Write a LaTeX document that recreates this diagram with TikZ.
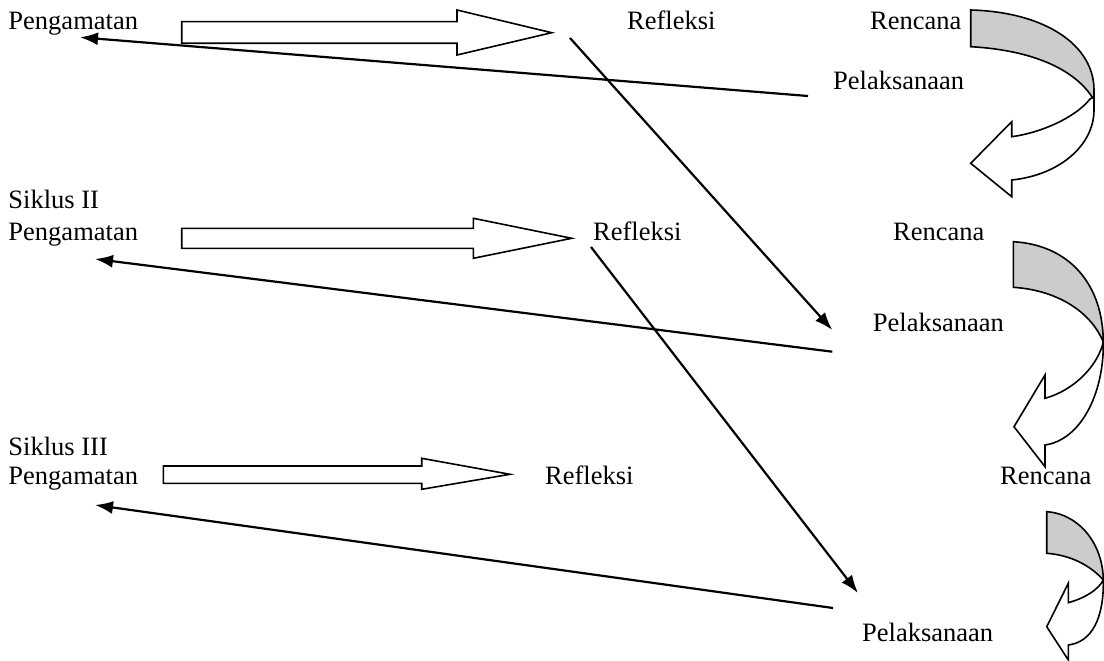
\documentclass[tikz,border=0pt]{standalone}
\usepackage{fontspec}
\setmainfont{Liberation Serif}
\usetikzlibrary{arrows.meta}
\begin{document}
\begin{tikzpicture}[x=1pt,y=-1pt,
  lbl/.style={inner sep=0pt,anchor=base west,font=\fontsize{26.5}{30}\selectfont},
  thin/.style={line width=2.2pt,-{Latex[length=18pt,width=13pt]}},
  block/.style={draw=black,line width=1.6pt,fill=white,line join=miter},
  back/.style={draw=black,line width=1.6pt,fill=black!20},
  front/.style={draw=black,line width=1.6pt,fill=white}]
\useasboundingbox (0,0) rectangle (1104,661);
% labels
\node[lbl] (p1) at (8.3,29.3) {Pengamatan};
\node[lbl] (r1) at (627,29.3) {Refleksi};
\node[lbl] (c1) at (870,29.3) {Rencana};
\node[lbl] (l1) at (833,89) {Pelaksanaan};
\node[lbl] (s2) at (8.3,208.3) {Siklus II};
\node[lbl] (p2) at (8.3,240) {Pengamatan};
\node[lbl] (r2) at (593,240) {Refleksi};
\node[lbl] (c2) at (893,240) {Rencana};
\node[lbl] (l2) at (872.7,331.7) {Pelaksanaan};
\node[lbl] (s3) at (8.3,455) {Siklus III};
\node[lbl] (p3) at (8.3,484) {Pengamatan};
\node[lbl] (r3) at (545,484) {Refleksi};
\node[lbl] (c3) at (1000,484) {Rencana};
\node[lbl] (l3) at (862,641) {Pelaksanaan};
% block arrows
\draw[block] (181.7,21.7) -- (457,21.7) -- (457,10) -- (551.7,32.7) -- (457,55) -- (457,43.3) -- (181.7,43.3) -- cycle;
\draw[block] (181.7,228.3) -- (473.3,228.3) -- (473.3,218.3) -- (571.7,238.3) -- (473.3,258.3) -- (473.3,248.3) -- (181.7,248.3) -- cycle;
\draw[block] (163.3,466) -- (421.7,466) -- (421.7,458.3) -- (510,474.3) -- (421.7,489.3) -- (421.7,483.3) -- (163.3,483.3) -- cycle;
% thin arrows
\coordinate (a1s) at (808,96);   \coordinate (a1e) at (80,37.3);
\coordinate (a2s) at (570,38);   \coordinate (a2e) at (832.3,330);
\coordinate (a3s) at (832.3,351.7); \coordinate (a3e) at (95,259);
\coordinate (a4s) at (591,247);  \coordinate (a4e) at (858,593);
\coordinate (a5s) at (833,608);  \coordinate (a5e) at (95,505);
\draw[thin] (a1s) -- (a1e);
\draw[thin] (a2s) -- (a2e);
\draw[thin] (a3s) -- (a3e);
\draw[thin] (a4s) -- (a4e);
\draw[thin] (a5s) -- (a5e);
% curved arrow 1
\draw[back] (970.7,10) .. controls (1045,12) and (1094,45) .. (1094,90) -- (1094,100) .. controls (1075,68) and (1030,50) .. (970.7,46.7) -- cycle;
\draw[front] (1094,97) -- (1094,110) .. controls (1094,145) and (1060,175) .. (1011.7,180) -- (1011.7,196.7) -- (970.7,163.3) -- (1011.7,121.7) -- (1011.7,136.7) .. controls (1040,133) and (1075,118) .. (1090,99) -- cycle;
% curved arrow 2
\draw[back] (1013.3,241.7) .. controls (1070,245) and (1103,285) .. (1103.3,342) .. controls (1090,310) and (1055,290) .. (1013.3,287.3) -- cycle;
\draw[front] (1103.3,342) .. controls (1104,395) and (1080,440) .. (1045,445) -- (1045,466.7) -- (1014,426.7) -- (1045,375) -- (1045,398.3) .. controls (1075,390) and (1098,365) .. (1103.3,342) -- cycle;
% curved arrow 3
\draw[back] (1046.7,511.7) .. controls (1080,514) and (1103,545) .. (1103.3,580) .. controls (1090,565) and (1070,555) .. (1046.7,553.3) -- cycle;
\draw[front] (1103.3,580) .. controls (1104,618) and (1092,642) .. (1068.3,645) -- (1068.3,660) -- (1046.7,626.7) -- (1068.3,583.3) -- (1068.3,602.7) .. controls (1085,598) and (1098,590) .. (1103.3,580) -- cycle;
\end{tikzpicture}
\end{document}
